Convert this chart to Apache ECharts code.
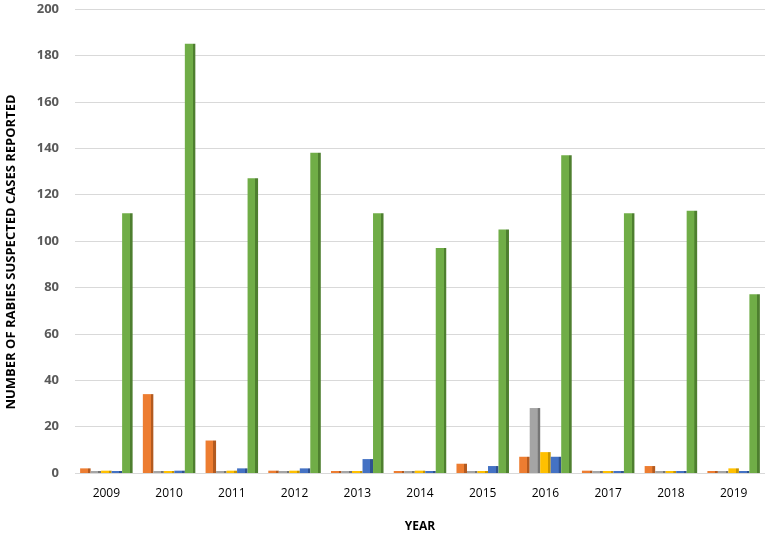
<!DOCTYPE html>
<html><head><meta charset="utf-8">
<script src="https://cdn.jsdelivr.net/npm/echarts@6/dist/echarts.min.js"></script>
<style>html,body{margin:0;padding:0;background:#fff}#c{width:777px;height:542px}</style>
</head><body><div id="c"></div>
<script>
var years = ['2009','2010','2011','2012','2013','2014','2015','2016','2017','2018','2019'];
var orangeVals = [2, 34, 14, 1, 0, 0, 4, 7, 1, 3, 0];
var grayVals   = [0, 0, 0, 0, 0, 0, 0, 28, 0, 0, 0];
var yellowVals = [1, 0, 1, 1, 0, 1, 0, 9, 0, 0, 2];
var blueVals   = [0, 1, 2, 2, 6, 0, 3, 7, 0, 0, 0];
var greenVals  = [112, 185, 127, 138, 112, 97, 105, 137, 112, 113, 77];
var yTicks = [0,20,40,60,80,100,120,140,160,180,200];

function grad(main, dark){
  return new echarts.graphic.LinearGradient(0,0,1,0,[
    {offset:0,color:main},{offset:0.74,color:main},{offset:0.75,color:dark},{offset:1,color:dark}
  ]);
}
var palette = [
  ['#ED7D31','#B35A1F'],
  ['#A5A5A5','#767676'],
  ['#FFC000','#C79500'],
  ['#4472C4','#2F528F'],
  ['#70AD47','#4E7F2F']
];
var seriesData = [orangeVals, grayVals, yellowVals, blueVals, greenVals];
var series = seriesData.map(function(d,i){
  return {
    type:'bar', data:d, barWidth:10.5, barGap:'0%', barMinHeight:2,
    itemStyle:{color:grad(palette[i][0],palette[i][1])},
    silent:true
  };
});
var chart = echarts.init(document.getElementById('c'));
chart.setOption({
  animation:false,
  grid:{left:75,right:12,top:9,bottom:69,containLabel:false},
  xAxis:{type:'category',data:years,
    axisLine:{show:false},axisTick:{show:false},
    axisLabel:{color:'#000',fontFamily:'Open Sans',fontSize:12,margin:15},
    name:'YEAR',nameLocation:'middle',nameGap:48,
    nameTextStyle:{fontFamily:'Open Sans',fontWeight:'bold',fontSize:12,color:'#000'}
  },
  yAxis:{type:'value',min:0,max:200,interval:20,
    axisLine:{show:false},axisTick:{show:false},
    splitLine:{lineStyle:{color:'#d9d9d9',width:1}},
    axisLabel:{color:'#595959',fontFamily:'Open Sans',fontWeight:'bold',fontSize:13,margin:16}
  },
  graphic:[{type:'text',x:11,y:252,rotation:Math.PI/2,
    style:{text:'NUMBER OF RABIES SUSPECTED CASES REPORTED',fill:'#000',
      font:'bold 13px "Open Sans"',align:'center',verticalAlign:'middle'}}],
  series:series
});
</script></body></html>
